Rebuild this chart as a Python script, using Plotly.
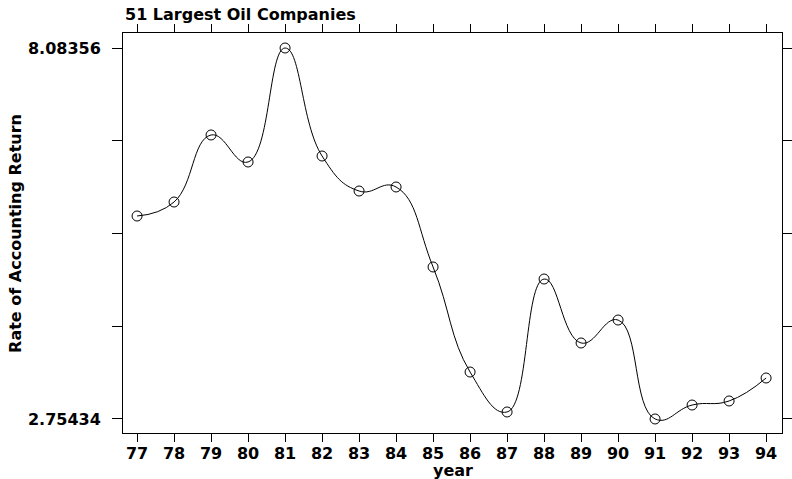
import plotly.graph_objects as go

years = [77, 78, 79, 80, 81, 82, 83, 84, 85, 86, 87, 88, 89, 90, 91, 92, 93, 94]
returns = [5.670, 5.871, 6.834, 6.446, 8.08356, 6.532, 6.029, 6.087, 4.938, 3.429,
           2.855, 4.765, 3.846, 4.176, 2.75434, 2.955, 3.013, 3.343]
y_tickvals = [2.75434, 4.086645, 5.41895, 6.751255, 8.08356]
y_ticktext = ["2.75434", "", "", "", "8.08356"]
x_tickvals = years
x_ticktext = [str(y) for y in years]

FONT = "DejaVu Sans"
TF = dict(size=16, family=FONT, weight="bold", color="black")

fig = go.Figure()
fig.add_trace(go.Scatter(
    x=years, y=returns, mode="lines+markers",
    line=dict(color="black", width=1, shape="spline", smoothing=1.3),
    marker=dict(symbol="circle-open", size=10, color="black", line=dict(width=1)),
    showlegend=False,
))

fig.update_layout(
    width=792, height=479,
    margin=dict(l=123, r=10, t=33, b=46),
    paper_bgcolor="white", plot_bgcolor="white",
    font=dict(family=FONT, color="black", size=16),
    xaxis=dict(
        range=[76.62, 94.43], tickvals=x_tickvals, ticktext=x_ticktext,
        showgrid=False, zeroline=False, showline=True, linecolor="black", linewidth=1,
        mirror="ticks", ticks="outside", ticklen=8, tickcolor="black",
        tickfont=TF, automargin=False, ticklabelstandoff=-2,
    ),
    yaxis=dict(
        range=[2.553, 8.299], tickvals=y_tickvals, ticktext=y_ticktext,
        showgrid=False, zeroline=False, showline=True, linecolor="black", linewidth=1,
        mirror="ticks", ticks="outside", ticklen=10, tickcolor="black",
        tickfont=TF, automargin=False, ticklabelstandoff=8,
    ),
    annotations=[
        dict(text="51 Largest Oil Companies", xref="paper", yref="paper",
             x=0, y=1, xanchor="left", yanchor="bottom", yshift=7, showarrow=False,
             font=TF),
        dict(text="Rate of Accounting Return", xref="paper", yref="paper",
             x=-0.164, y=0.5, xanchor="center", yanchor="middle", textangle=-90,
             showarrow=False, font=TF),
        dict(text="year", xref="paper", yref="paper",
             x=0.5, y=0, xanchor="center", yanchor="top", yshift=-26, showarrow=False,
             font=TF),
    ],
)

fig.write_html("out.html", config={"displayModeBar": False},
               post_script="document.body.style.margin='0';")
